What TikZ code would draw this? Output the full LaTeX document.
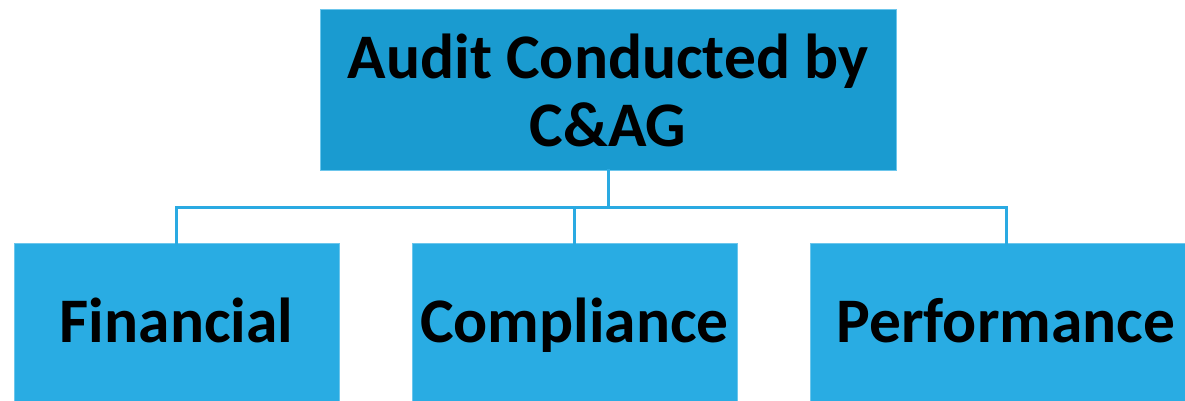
\documentclass[tikz,border=0pt]{standalone}
\usepackage{fontspec}
\setmainfont{Carlito}
\definecolor{topblue}{HTML}{1A9BD0}
\definecolor{boxblue}{HTML}{29ACE3}
\definecolor{edgeblue}{HTML}{6CC6EC}
\definecolor{lineblue}{HTML}{2AAAE2}
\tikzset{
  auditbox/.style={draw=edgeblue, line width=0.8pt, fill=boxblue, inner sep=0pt,
    minimum width=325pt, minimum height=160pt, align=center,
    font=\fontsize{63.5}{68}\selectfont\bfseries},
  kindbox/.style={auditbox, text height=44pt, text depth=6pt},
  conn/.style={draw=lineblue, line width=3pt}
}
\begin{document}
\begin{tikzpicture}[x=1pt,y=-1pt]
        \clip (0,0) rectangle (1185,401);
        \fill[white] (0,0) rectangle (1185,401);
        \node[auditbox, fill=topblue, minimum width=576pt, minimum height=161pt] (audit) at (608,90) {Audit Conducted by\\C\&AG};
        \node[kindbox] (fin) at (176.5,323) {Financial};
        \node[kindbox] (comp) at (574.5,323) {Compliance};
        \node[kindbox, minimum width=392pt] (perf) at (1006,323) {Performance};
        \coordinate (bus) at (608,207);
        \draw[conn] ([yshift=2pt]audit.south) -- (bus);
        \draw[conn] ([yshift=-3pt]fin.north) |- (bus);
        \draw[conn] ([yshift=-3pt]perf.north) |- (bus);
        \draw[conn] ([yshift=-3pt]comp.north) -- (comp.north |- bus);
    \end{tikzpicture}
\end{document}
